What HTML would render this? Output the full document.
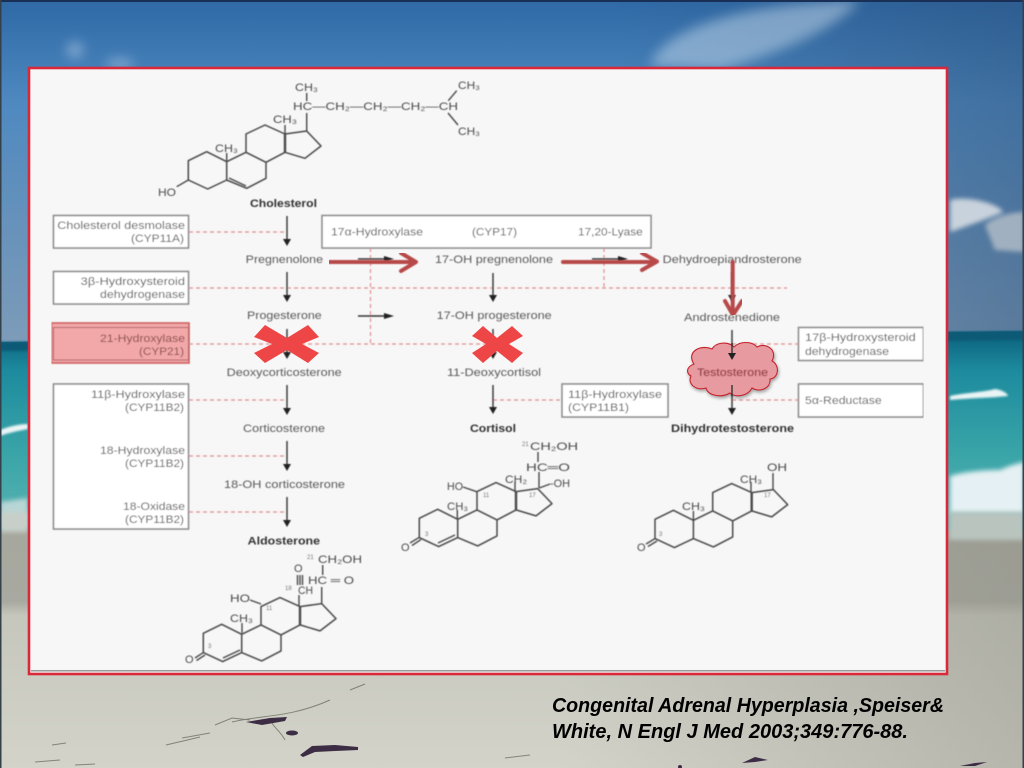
<!DOCTYPE html>
<html><head><meta charset="utf-8"><style>
html,body{margin:0;padding:0;width:1024px;height:768px;overflow:hidden;background:#567}
svg{display:block;position:absolute;left:0;top:0}
text{font-family:"Liberation Sans",sans-serif;font-size:11px;fill:#5a5a5a}
.b{font-weight:bold;fill:#333}
.s{font-size:6px;fill:#777}
.m{font-size:11px;fill:#4c4c4c}
.c{font-size:20px;font-weight:bold;font-style:italic;fill:#000}
</style></head><body>
<svg width="1024" height="768" viewBox="0 0 1024 768" xmlns="http://www.w3.org/2000/svg">
<defs>
<linearGradient id="sky" x1="0" y1="0" x2="0" y2="1">
<stop offset="0" stop-color="#2f69a6"/><stop offset=".3" stop-color="#4f89c0"/><stop offset=".7" stop-color="#6a93ba"/><stop offset="1" stop-color="#7d9cb9"/></linearGradient>
<linearGradient id="skyr" x1="0" y1="0" x2="1" y2="0"><stop offset=".6" stop-color="#2a4a70" stop-opacity="0"/><stop offset="1" stop-color="#2a4a70" stop-opacity=".4"/></linearGradient>
<linearGradient id="sea" x1="0" y1="0" x2="0" y2="1">
<stop offset="0" stop-color="#0b5f7c"/><stop offset=".2" stop-color="#1d8b9e"/><stop offset=".6" stop-color="#38a4a8"/><stop offset="1" stop-color="#5ab3b0"/></linearGradient>
<linearGradient id="sand" x1="0" y1="0" x2="0" y2="1">
<stop offset="0" stop-color="#a6a79d"/><stop offset=".3" stop-color="#a8a9a0"/><stop offset=".36" stop-color="#c6c7bc"/><stop offset="1" stop-color="#d3d3c9"/></linearGradient>
<linearGradient id="sandr" x1="0" y1="0" x2="1" y2="0"><stop offset=".55" stop-color="#8a8a80" stop-opacity="0"/><stop offset="1" stop-color="#8a8a80" stop-opacity=".4"/></linearGradient>
<filter id="b8" x="-30%" y="-30%" width="160%" height="160%"><feGaussianBlur stdDeviation="6"/></filter>
<filter id="b3" x="-30%" y="-30%" width="160%" height="160%"><feGaussianBlur stdDeviation="2.5"/></filter>
<filter id="b1" x="-30%" y="-30%" width="160%" height="160%"><feGaussianBlur stdDeviation="1"/></filter>
<filter id="soft" x="0" y="0" width="100%" height="100%"><feGaussianBlur stdDeviation="0.45"/></filter>
<filter id="shadow" x="-20%" y="-20%" width="140%" height="140%"><feDropShadow dx="1" dy="2" stdDeviation="1.5" flood-color="#000" flood-opacity=".35"/></filter>
<g id="ster" fill="none" stroke="#4a4a4a" stroke-width="1.5" stroke-linejoin="round">
<path d="M0,0 L18.4,-9 L38.4,1 L38.4,19.3 L19.4,28.3 L0,19.3 Z"/>
<path d="M38.4,1 L57.7,-8.4 L77.7,1.6 L77.7,17.6 L58.4,27.6 L38.4,19.3"/>
<path d="M57.7,-8.4 L57.7,-26.7 L76.7,-35.7 L96.7,-26.7 L96.7,-8.4 L77.7,1.6"/>
<path d="M96.7,-26.7 L118.4,-29.7 L132.7,-14.7 L116.7,-2.4 L96.7,-8.4"/>
<path d="M96.7,-26.7 L96.7,-8.4" stroke-width="2.4"/>
</g>
</defs>

<!-- background -->
<rect width="1024" height="345" fill="url(#sky)"/>
<rect width="1024" height="345" fill="url(#skyr)"/>
<g filter="url(#b8)" fill="#c9dcec" opacity=".5">
<path d="M650,66 C660,35 720,5 860,0 C840,25 790,50 720,70 Z"/>
<ellipse cx="75" cy="50" rx="8" ry="8"/>
<ellipse cx="120" cy="64" rx="14" ry="5"/>
</g>
<g filter="url(#b3)">
<path d="M950,200 C970,195 1000,205 1003,212 C990,218 970,225 950,232 Z" fill="#c8d2dc"/>
<path d="M985,225 C1000,212 1024,212 1024,212 L1024,252 L995,250 Z" fill="#a0b0c0"/>
</g>
<path d="M0,342 L1024,331 V530 H0 Z" fill="url(#sea)"/>
<path d="M0,342 L1024,331 V340 L0,351 Z" fill="#0a5a76" filter="url(#b1)"/>
<g filter="url(#b1)" fill="#eaf4f5">
<path d="M950,396 C970,392 985,392 995,389 C1003,390 1008,394 1008,396 C990,398 970,398 950,400 Z"/>
<path d="M0,430 C10,426 20,424 28,424 L28,429 C18,431 8,433 0,436 Z"/>
</g>
<g filter="url(#b3)">
<path d="M950,476 C970,470 995,470 1000,470 C1010,465 1024,462 1024,462 L1024,514 L950,514 Z" fill="#e4f0f3"/>
<path d="M0,502 L28,498 L28,528 L0,528 Z" fill="#b8d6d6"/>
</g>
<rect y="530" width="1024" height="238" fill="url(#sand)"/>
<rect y="530" width="1024" height="238" fill="url(#sandr)"/>
<rect x="0" y="512" width="28" height="20" fill="#c8cfc8" filter="url(#b3)"/>
<rect x="949" y="512" width="75" height="28" fill="#b9c4bf" filter="url(#b3)"/>
<g fill="none" stroke="#5a5a50" stroke-width="1" opacity=".65">
<path d="M166,745 L200,737"/><path d="M182,738 L210,733"/>
<path d="M52,745 L66,743"/><path d="M35,762 L60,760"/><path d="M75,765 L95,764"/>
<path d="M215,725 L232,718 L250,720"/>
<path d="M232,722 C260,715 290,718 330,700"/>
<path d="M285,740 C280,730 270,725 272,720"/>
<path d="M505,758 L530,755"/>
<path d="M350,690 L365,684"/>
</g>
<g fill="#3c2c44">
<path d="M246,722 L270,718 L287,717 L285,721 L262,725 Z"/>
<path d="M300,755 L312,746 L335,745 L358,747 L358,750 L335,751 L315,752 L303,757 Z"/>
<ellipse cx="292" cy="733" rx="6" ry="2.5"/>
<path d="M742,763 L755,757 L768,760 L755,762 Z"/>
<path d="M960,766 L975,763 L987,762 L975,766 Z"/>
<circle cx="680" cy="767" r="2"/>
</g>
<rect x="0" y="0" width="1024" height="2" fill="#1a2f55"/>
<rect x="0" y="0" width="1.5" height="768" fill="#34404a"/>
<rect x="1022.5" y="0" width="1.5" height="768" fill="#34404a"/>

<!-- panel -->
<rect x="29" y="68" width="918" height="606" fill="#f7f7f7" stroke="#d8283a" stroke-width="2.6"/>
<rect x="31" y="670" width="914" height="1.5" fill="#999"/>

<g filter="url(#soft)">
<!-- boxes -->
<g fill="#fff" stroke="#8c8c8c" stroke-width="1.6">
<rect x="53.5" y="215.5" width="135" height="32.5"/>
<rect x="53.5" y="271.5" width="135" height="32.5"/>
<rect x="53.5" y="384" width="135" height="145"/>
<rect x="322" y="215.5" width="329" height="32.5"/>
<rect x="798.5" y="327.5" width="125" height="33"/>
<rect x="798.5" y="384" width="125" height="33"/>
<rect x="562" y="384" width="106" height="33"/>
</g>
<rect x="51.5" y="323" width="137.5" height="40" fill="#f2a8a8" stroke="#cf5f5f" stroke-width="1.6"/>
<rect x="53.5" y="327.5" width="135" height="32.5" fill="none" stroke="#b06464" stroke-width="1"/>

<!-- dashed -->
<g stroke="#e39090" stroke-width="1.2" stroke-dasharray="4 3" fill="none">
<path d="M189,232 H287"/>
<path d="M189,288 H787"/>
<path d="M189,344 H493"/>
<path d="M189,400 H287"/>
<path d="M189,456 H287"/>
<path d="M189,512 H287"/>
<path d="M493,400 H562"/>
<path d="M732,344 H798"/>
<path d="M732,400 H798"/>
<path d="M370.5,248 V344"/>
<path d="M604,248 V288"/>
</g>

<!-- black arrows -->
<g stroke="#333" stroke-width="1.4" fill="#222">
<path d="M287,216 V240"/><path d="M287,272 V296"/><path d="M287,329 V352"/><path d="M287,385 V409"/><path d="M287,441 V465"/><path d="M287,497 V521"/>
<path d="M493,273 V296"/><path d="M493,329 V352"/><path d="M493,385 V408"/>
<path d="M732,272 V296"/><path d="M732,330 V354"/><path d="M732,385 V409"/>
<path d="M358,259 H385"/><path d="M358,316 H385"/><path d="M592,259 H620"/>
</g>
<g fill="#222">
<path d="M283,239 H291 L287,246 Z"/><path d="M283,295 H291 L287,302 Z"/><path d="M283,352 H291 L287,359 Z"/><path d="M283,408 H291 L287,415 Z"/><path d="M283,464 H291 L287,471 Z"/><path d="M283,520 H291 L287,527 Z"/>
<path d="M489,295 H497 L493,302 Z"/><path d="M489,352 H497 L493,359 Z"/><path d="M489,407 H497 L493,414 Z"/>
<path d="M728,295 H736 L732,302 Z"/><path d="M728,353 H736 L732,360 Z"/><path d="M728,408 H736 L732,415 Z"/>
<path d="M384,256 L394,259 L384,262 Z"/><path d="M384,313 L394,316 L384,319 Z"/><path d="M618,256 L628,259 L618,262 Z"/>
</g>

<!-- molecules -->
<use href="#ster" transform="translate(188.3,160.7)"/>
<use href="#ster" transform="translate(419.3,518.3)"/>
<use href="#ster" transform="translate(655,519.3)"/>
<use href="#ster" transform="translate(203.3,633.3)"/>
<g fill="none" stroke="#4a4a4a" stroke-width="1.4">
<!-- cholesterol -->
<path d="M229,178 L246,186"/><path d="M188.3,180 L176.7,186.7"/>
<path d="M226.7,161.7 V153"/><path d="M285,134 V125"/>
<path d="M306.7,131 V113"/><path d="M306.7,93 V101"/>
<path d="M456.7,90.7 L448.3,100.7"/><path d="M448,113 L458,125"/>
<!-- cortisol -->
<path d="M438,543 L455,535"/><path d="M419.3,537.3 L410,543"/><path d="M421,539.5 L412,545.5"/>
<path d="M463,487 L476.7,491.7"/><path d="M457.3,510 V519"/><path d="M515,482 V492"/>
<path d="M539.3,488 L550,484"/><path d="M538,452 V462"/><path d="M539,472 V488"/>
<!-- DHT -->
<path d="M655,538.6 L646,544"/><path d="M657,541 L648,546.5"/><path d="M773,473 V489"/><path d="M751,482 V493"/><path d="M693.4,511 V520"/>
<!-- aldo -->
<path d="M223,658 L240,650"/><path d="M203.3,652.6 L195,658"/><path d="M205,655 L196.5,660.5"/>
<path d="M250,600 L261,604"/><path d="M242,623 V633"/>
<path d="M299,595 V606"/><path d="M322.7,565 V575"/><path d="M321.7,587 V604"/>
<path d="M297.5,575 V585"/><path d="M300,575 V585"/><path d="M302.5,575 V585"/>
</g>

<!-- molecule labels -->
<g>
<text class="m" x="295" y="91" textLength="23" lengthAdjust="spacingAndGlyphs">CH₃</text>
<text class="m" x="293" y="110" textLength="165" lengthAdjust="spacingAndGlyphs">HC—CH₂—CH₂—CH₂—CH</text>
<text class="m" x="458" y="89" textLength="22" lengthAdjust="spacingAndGlyphs">CH₃</text>
<text class="m" x="458" y="135" textLength="22" lengthAdjust="spacingAndGlyphs">CH₃</text>
<text class="m" x="273" y="123" textLength="24" lengthAdjust="spacingAndGlyphs">CH₃</text>
<text class="m" x="215" y="152" textLength="23" lengthAdjust="spacingAndGlyphs">CH₃</text>
<text class="m" x="158" y="196" textLength="18" lengthAdjust="spacingAndGlyphs">HO</text>

<text class="s" x="522" y="446">21</text>
<text class="m" x="530" y="450" textLength="48" lengthAdjust="spacingAndGlyphs">CH₂OH</text>
<text class="m" x="526" y="471" textLength="44" lengthAdjust="spacingAndGlyphs">HC═O</text>
<text class="m" x="505" y="483" textLength="22" lengthAdjust="spacingAndGlyphs">CH₂</text>
<text class="m" x="550" y="487" textLength="20" lengthAdjust="spacingAndGlyphs">-OH</text>
<text class="m" x="447" y="490" textLength="16" lengthAdjust="spacingAndGlyphs">HO</text>
<text class="m" x="447" y="510" textLength="21" lengthAdjust="spacingAndGlyphs">CH₃</text>
<text class="m" x="401" y="551">O</text>
<text class="s" x="483" y="497">11</text>
<text class="s" x="529" y="497">17</text>
<text class="s" x="425" y="536">3</text>

<text class="m" x="767" y="471" textLength="20" lengthAdjust="spacingAndGlyphs">OH</text>
<text class="m" x="740" y="483" textLength="22" lengthAdjust="spacingAndGlyphs">CH₃</text>
<text class="m" x="682" y="510" textLength="23" lengthAdjust="spacingAndGlyphs">CH₃</text>
<text class="m" x="637" y="551">O</text>
<text class="s" x="764" y="497">17</text>
<text class="s" x="659" y="536">3</text>

<text class="s" x="307" y="559">21</text>
<text class="m" x="318" y="563" textLength="44" lengthAdjust="spacingAndGlyphs">CH₂OH</text>
<text class="m" x="294" y="572">O</text>
<text class="m" x="308" y="584" textLength="46" lengthAdjust="spacingAndGlyphs">HC ═ O</text>
<text class="s" x="285" y="590">18</text>
<text class="m" x="298" y="594" textLength="15" lengthAdjust="spacingAndGlyphs">CH</text>
<text class="m" x="230" y="602" textLength="20" lengthAdjust="spacingAndGlyphs">HO</text>
<text class="s" x="266" y="610">11</text>
<text class="m" x="230" y="622" textLength="23" lengthAdjust="spacingAndGlyphs">CH₃</text>
<text class="s" x="208" y="648">3</text>
<text class="m" x="185" y="663">O</text>
</g>

<!-- pathway labels -->
<text class="b" x="250" y="207" textLength="67" lengthAdjust="spacingAndGlyphs">Cholesterol</text>
<text x="57.3" y="229" textLength="127.7" lengthAdjust="spacingAndGlyphs">Cholesterol desmolase</text>
<text x="131" y="242" textLength="53" lengthAdjust="spacingAndGlyphs">(CYP11A)</text>
<text x="331" y="235.5" textLength="92" lengthAdjust="spacingAndGlyphs">17α-Hydroxylase</text>
<text x="472" y="235.5" textLength="45" lengthAdjust="spacingAndGlyphs">(CYP17)</text>
<text x="578" y="235.5" textLength="64.7" lengthAdjust="spacingAndGlyphs">17,20-Lyase</text>
<text x="245.7" y="263" textLength="77.3" lengthAdjust="spacingAndGlyphs">Pregnenolone</text>
<text x="435" y="263" textLength="118" lengthAdjust="spacingAndGlyphs">17-OH pregnenolone</text>
<text x="662.7" y="263" textLength="139" lengthAdjust="spacingAndGlyphs">Dehydroepiandrosterone</text>
<text x="80.7" y="285" textLength="104.3" lengthAdjust="spacingAndGlyphs">3β-Hydroxysteroid</text>
<text x="100" y="298" textLength="85" lengthAdjust="spacingAndGlyphs">dehydrogenase</text>
<text x="247" y="319" textLength="74.7" lengthAdjust="spacingAndGlyphs">Progesterone</text>
<text x="436.7" y="319" textLength="115" lengthAdjust="spacingAndGlyphs">17-OH progesterone</text>
<text x="684" y="321" textLength="96" lengthAdjust="spacingAndGlyphs">Androstenedione</text>
<text x="100" y="342" textLength="85" lengthAdjust="spacingAndGlyphs" style="fill:#8a4a4a">21-Hydroxylase</text>
<text x="139" y="355" textLength="45" lengthAdjust="spacingAndGlyphs" style="fill:#8a4a4a">(CYP21)</text>
<text x="226.7" y="376" textLength="115" lengthAdjust="spacingAndGlyphs">Deoxycorticosterone</text>
<text x="447" y="376" textLength="94" lengthAdjust="spacingAndGlyphs">11-Deoxycortisol</text>
<text x="805" y="341" textLength="110.7" lengthAdjust="spacingAndGlyphs">17β-Hydroxysteroid</text>
<text x="805" y="355" textLength="84" lengthAdjust="spacingAndGlyphs">dehydrogenase</text>
<text x="91" y="398" textLength="94" lengthAdjust="spacingAndGlyphs">11β-Hydroxylase</text>
<text x="125" y="411" textLength="59" lengthAdjust="spacingAndGlyphs">(CYP11B2)</text>
<text x="243" y="432" textLength="82" lengthAdjust="spacingAndGlyphs">Corticosterone</text>
<text x="100" y="454" textLength="85" lengthAdjust="spacingAndGlyphs">18-Hydroxylase</text>
<text x="125" y="467" textLength="59" lengthAdjust="spacingAndGlyphs">(CYP11B2)</text>
<text x="224" y="488" textLength="121" lengthAdjust="spacingAndGlyphs">18-OH corticosterone</text>
<text x="123" y="510" textLength="62" lengthAdjust="spacingAndGlyphs">18-Oxidase</text>
<text x="125" y="523" textLength="59" lengthAdjust="spacingAndGlyphs">(CYP11B2)</text>
<text class="b" x="247.7" y="544.5" textLength="72.3" lengthAdjust="spacingAndGlyphs">Aldosterone</text>
<text class="b" x="470" y="432" textLength="46" lengthAdjust="spacingAndGlyphs">Cortisol</text>
<text class="b" x="671" y="432" textLength="123" lengthAdjust="spacingAndGlyphs">Dihydrotestosterone</text>
<text x="568" y="398" textLength="94" lengthAdjust="spacingAndGlyphs">11β-Hydroxylase</text>
<text x="568" y="411" textLength="61" lengthAdjust="spacingAndGlyphs">(CYP11B1)</text>
<text x="805" y="404" textLength="76.7" lengthAdjust="spacingAndGlyphs">5α-Reductase</text>
</g>

<!-- red overlays -->
<g fill="none" stroke="#b84a4a" stroke-width="4" stroke-linecap="round" stroke-linejoin="round" filter="url(#soft)">
<path d="M329,262 H414"/><path d="M401,253 L416,262 L401,271"/>
<path d="M563,262 H655"/><path d="M642,253 L657,261.5 L642,270"/>
<path d="M732.7,262 V313"/><path d="M725,301 L733,315 L742,301"/>
</g>
<path d="M265,325 L287,338 L308,325 L319,337 L302,344 L319,353 L308,363 L287,350 L265,363 L254,353 L272,344 L254,337 Z" fill="#ee4646"/>
<path d="M483,326 L497,338 L512,326 L523,336 L509,344 L523,353 L512,363 L497,351 L483,363 L472,353 L486,344 L472,336 Z" fill="#ee4646"/>
<g filter="url(#shadow)">
<path d="M694,364 C686,352 700,344 712,349 C716,342 728,341 734,347 C740,341 752,341 757,347 C766,342 778,350 772,361 C780,365 779,378 770,379 C771,388 760,393 752,388 C748,396 736,398 730,393 C722,398 708,396 706,388 C696,391 687,384 691,376 C686,373 686,367 694,364 Z" fill="#e79aa0" stroke="#c4232c" stroke-width="1.1"/>
</g>
<path d="M732,343 V354" stroke="#333" stroke-width="1.4"/><path d="M728,353 H736 L732,360 Z" fill="#222"/>
<path d="M732,385 V396" stroke="#333" stroke-width="1.4"/>
<text x="697" y="376" textLength="71" lengthAdjust="spacingAndGlyphs" style="fill:#8a3a40" filter="url(#soft)">Testosterone</text>

<!-- citation -->
<text class="c" x="552" y="712" textLength="392" lengthAdjust="spacingAndGlyphs">Congenital Adrenal Hyperplasia ,Speiser&amp;</text>
<text class="c" x="552" y="738" textLength="356" lengthAdjust="spacingAndGlyphs">White, N Engl J Med 2003;349:776-88.</text>
</svg>
</body></html>
